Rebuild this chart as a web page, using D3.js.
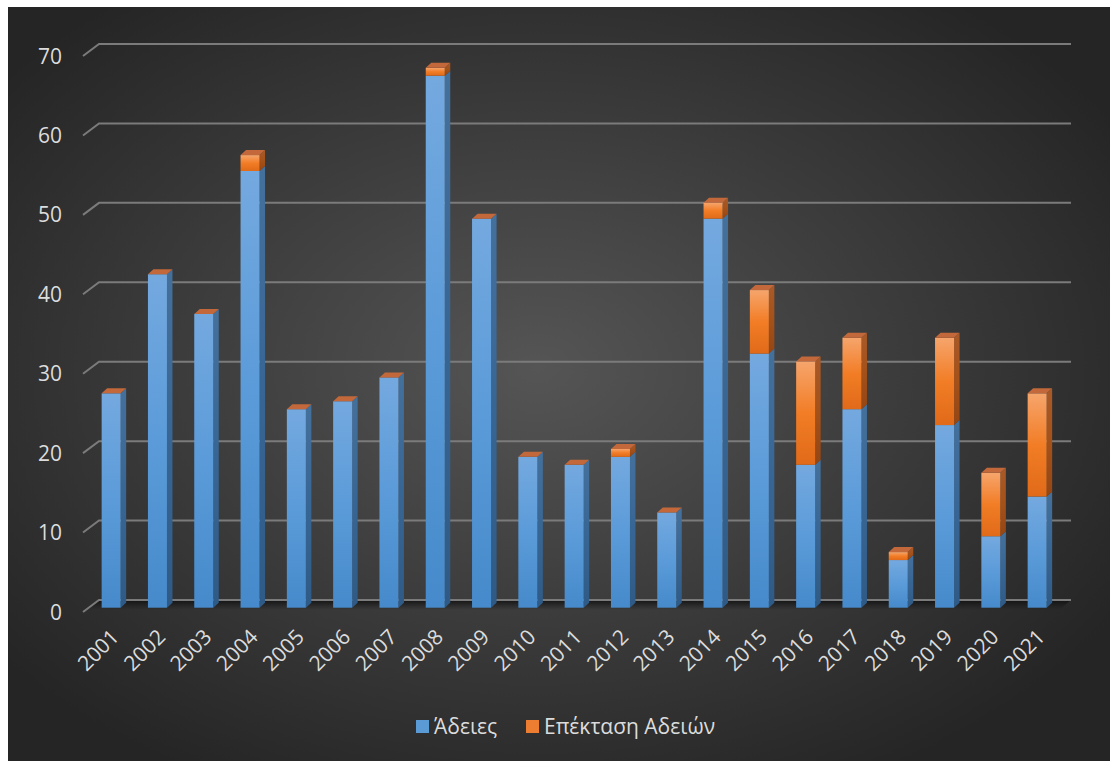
<!DOCTYPE html>
<html>
<head>
<meta charset="utf-8">
<script src="https://cdn.jsdelivr.net/npm/d3@7"></script>
<style>
  body { margin: 0; background: #ffffff; }
  svg text { font-family: "Open Sans", "Noto Sans", sans-serif; fill: #dcdcdc; }
</style>
</head>
<body>
<svg id="chart" width="1110" height="761"></svg>
<script>
var years = ["2001","2002","2003","2004","2005","2006","2007","2008","2009","2010","2011",
             "2012","2013","2014","2015","2016","2017","2018","2019","2020","2021"];
var adeies    = [27, 42, 37, 55, 25, 26, 29, 67, 49, 19, 18, 19, 12, 49, 32, 18, 25, 6, 23, 9, 14];
var epektasi  = [ 0,  0,  0,  2,  0,  0,  0,  1,  0,  0,  0,  1,  0,  2,  8, 13,  9, 1, 11, 8, 13];
var yTicks = [0, 10, 20, 30, 40, 50, 60, 70];
var seriesNames = ["Άδειες", "Επέκταση Αδειών"];

var svg = d3.select("#chart");
var defs = svg.append("defs");

// background
var bg = defs.append("radialGradient").attr("id", "bg")
  .attr("cx", "48%").attr("cy", "48%").attr("r", "62%");
bg.append("stop").attr("offset", "0%").attr("stop-color", "#555555");
bg.append("stop").attr("offset", "100%").attr("stop-color", "#252525");
svg.append("rect").attr("x", 8).attr("y", 7).attr("width", 1102).attr("height", 754)
  .attr("fill", "url(#bg)");

function vgrad(id, c0, c1, c2) {
  var g = defs.append("linearGradient").attr("id", id)
    .attr("x1", 0).attr("y1", 0).attr("x2", 0).attr("y2", 1);
  g.append("stop").attr("offset", "0%").attr("stop-color", c0);
  g.append("stop").attr("offset", "50%").attr("stop-color", c1);
  g.append("stop").attr("offset", "100%").attr("stop-color", c2);
}
vgrad("blueFront", "#74a9df", "#5b9bd9", "#468acb");
vgrad("blueSide", "#44709c", "#386694", "#2f5a86");
vgrad("orFront", "#f6a56c", "#f27d26", "#e06a18");
vgrad("orSide", "#a85a28", "#a5511a", "#944614");

var shadow = defs.append("linearGradient").attr("id", "floorShade")
  .attr("x1", 0).attr("y1", 0).attr("x2", 0).attr("y2", 1);
shadow.append("stop").attr("offset", "0%").attr("stop-color", "#111111").attr("stop-opacity", 0.95);
shadow.append("stop").attr("offset", "100%").attr("stop-color", "#1a1a1a").attr("stop-opacity", 0);

// scales
var backY = d3.scaleLinear().domain([0, 70]).range([600, 44]);
var frontY = d3.scaleLinear().domain([0, 70]).range([607.7, 607.7 - 70 * 7.94]);
var x = d3.scaleBand().domain(years).range([88, 88 + 21 * 46.3]);
var gridX0 = 99, gridX1 = 1071, dx = 16, dyDepth = 12;

// floor shadow
svg.append("path")
  .attr("d", "M" + gridX0 + "," + backY(0) + "L" + gridX1 + "," + backY(0) +
    "L" + (gridX1 - 12) + "," + (backY(0) + 10) + "L" + (gridX0 - 12) + "," + (backY(0) + 10) + "Z")
  .attr("fill", "url(#floorShade)");

// gridlines
var grid = svg.append("g");
yTicks.forEach(function(t) {
  grid.append("path")
    .attr("d", "M" + (gridX0 - dx) + "," + (backY(t) + dyDepth) + "L" + gridX0 + "," + backY(t) +
      "L" + gridX1 + "," + backY(t))
    .attr("fill", "none").attr("stroke", "#7b7b7b").attr("stroke-width", 2);
});

// y tick labels
svg.append("g").selectAll("text").data(yTicks).join("text")
  .attr("x", 62).attr("y", function(d) { return backY(d) + dyDepth; })
  .attr("dy", "0.36em").attr("text-anchor", "end")
  .attr("font-size", 21).text(function(d) { return d; });

// bars
var bw = 19, sx = 5.5, sy = 5;
var bars = svg.append("g");
years.forEach(function(yr, i) {
  var cx = x(yr) + x.bandwidth() / 2;
  var x0 = cx - bw / 2, x1 = cx + bw / 2;
  var segs = [
    { y0: 0, y1: adeies[i], front: "url(#blueFront)", side: "url(#blueSide)" },
    { y0: adeies[i], y1: adeies[i] + epektasi[i], front: "url(#orFront)", side: "url(#orSide)" }
  ];
  var g = bars.append("g");
  segs.forEach(function(s) {
    if (s.y1 <= s.y0) return;
    var yb = frontY(s.y0), yt = frontY(s.y1);
    g.append("path")
      .attr("d", "M" + x1 + "," + yb + "L" + (x1 + sx) + "," + (yb - sy) + "L" + (x1 + sx) + "," + (yt - sy) +
        "L" + x1 + "," + yt + "Z")
      .attr("fill", s.side);
    g.append("rect").attr("x", x0).attr("y", yt).attr("width", bw).attr("height", yb - yt)
      .attr("fill", s.front);
  });
  var ytop = frontY(adeies[i] + epektasi[i]);
  g.append("path")
    .attr("d", "M" + x0 + "," + ytop + "L" + (x0 + sx) + "," + (ytop - sy) + "L" + (x1 + sx) + "," + (ytop - sy) +
      "L" + x1 + "," + ytop + "Z")
    .attr("fill", "#c2683a");
});

// x labels
svg.append("g").selectAll("text").data(years).join("text")
  .attr("transform", function(d) {
    return "translate(" + (x(d) + x.bandwidth() / 2 + 4) + "," + 633 + ") rotate(-45)";
  })
  .attr("text-anchor", "end").attr("dy", "0.35em")
  .attr("font-size", 21).text(function(d) { return d; });

// legend
var legend = svg.append("g");
var legendX = [416, 526];
var legendFill = ["#5b9bd5", "#ed7d31"];
seriesNames.forEach(function(n, i) {
  legend.append("rect").attr("x", legendX[i]).attr("y", 720).attr("width", 13).attr("height", 13)
    .attr("fill", legendFill[i]);
  legend.append("text").attr("x", legendX[i] + 18).attr("y", 734)
    .attr("font-size", 21).text(n);
});
</script>
</body>
</html>
